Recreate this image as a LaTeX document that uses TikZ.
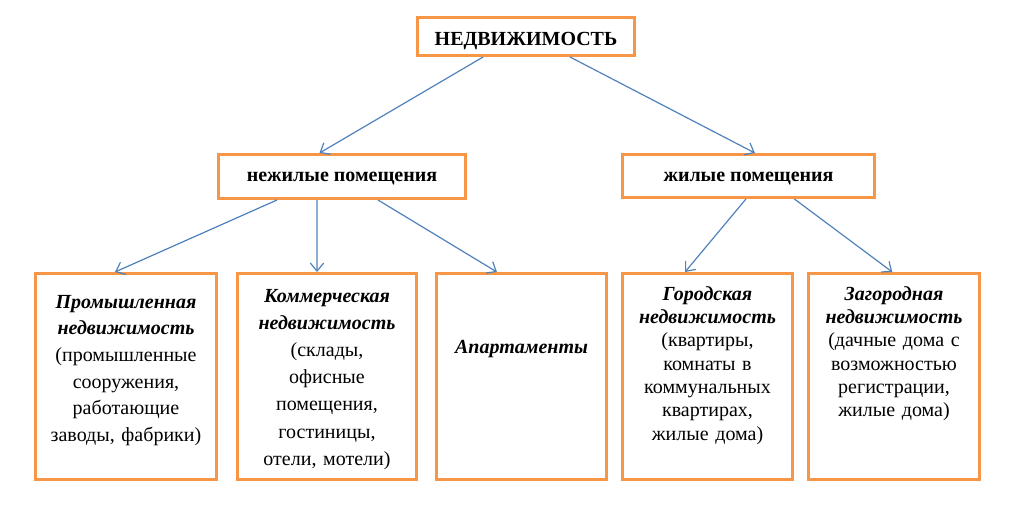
\documentclass[tikz,border=0pt]{standalone}
\usepackage{fontspec}
\setmainfont{Liberation Serif}
\usetikzlibrary{arrows.meta,positioning,calc}
\definecolor{Frame}{HTML}{F79646}
\definecolor{Link}{HTML}{4F81BD}
\newcommand{\kind}[1]{\textbf{\textit{#1}}}
\tikzset{
  head/.style={draw=Frame,fill=white,line width=2.25pt,inner sep=0pt,align=center,text height=10.5pt,text depth=2.5pt,font=\bfseries\fontsize{15}{18}\selectfont},
  leaf/.style={draw=Frame,fill=white,line width=2.25pt,inner sep=0pt,minimum height=154.5pt},
  leaftext/.style={anchor=base,align=center,inner sep=0pt,text width=125pt,font=\fontsize{15}{#1}\selectfont},
  leaftext/.default=20pt,
  flow/.style={-{Straight Barb[length=6pt,width=10pt]},draw=Link,line width=.9pt}
}

\begin{document}
\begin{tikzpicture}[x=0.75pt,y=-0.75pt]
  \useasboundingbox (0,0) rectangle (1024,507);
  \node[head,text height=13.8pt,text depth=1pt,minimum width=162.75pt,minimum height=28.5pt] (root) at (526,36.5) {НЕДВИЖИМОСТЬ};
  \node[head,minimum width=185.25pt,minimum height=33pt] (nonres) at (342,176.5) {нежилые помещения};
  \node[head,minimum width=189pt,minimum height=32.25pt] (res) at (748.5,176) {жилые помещения};
  % bottom row
  \node[leaf,minimum width=135.75pt] (indus) at (126,376.5) {};
  \node[leaf,minimum width=134.25pt,right=13.5pt of indus] (comm) {};
  \node[leaf,minimum width=127.5pt,right=12.75pt of comm] (apart) {};
  \node[leaf,minimum width=127.5pt,right=9.75pt of apart] (urban) {};
  \node[leaf,minimum width=128.25pt,right=9.75pt of urban] (country) {};
  \node[leaftext] (indusT) at ([yshift=-27pt]indus.north) {\kind{Промышленная}\\\kind{недвижимость}\\(промышленные\\сооружения,\\работающие\\заводы, фабрики)};
  \node[leaftext=20.4pt] (commT) at ([yshift=-22.5pt]comm.north) {\kind{Коммерческая}\\\kind{недвижимость}\\(склады,\\офисные\\помещения,\\гостиницы,\\отели, мотели)};
  \node[leaftext] (apartT) at ([yshift=-60.75pt]apart.north) {\kind{Апартаменты}};
  \node[leaftext=17.5pt] (urbanT) at ([yshift=-21pt]urban.north) {\kind{Городская}\\\kind{недвижимость}\\(квартиры,\\комнаты в\\коммунальных\\квартирах,\\жилые дома)};
  \node[leaftext=17.5pt] (countryT) at ([yshift=-21pt]country.north) {\kind{Загородная}\\\kind{недвижимость}\\(дачные дома с\\возможностью\\регистрации,\\жилые дома)};
  % links
  \draw[flow] ($(root.south west)!.305!(root.south east)$) -- ($(nonres.north west)!.41!(nonres.north east)$);
  \draw[flow] ($(root.south west)!.70!(root.south east)$) -- ($(res.north west)!.525!(res.north east)$);
  \draw[flow] ($(nonres.south west)!.24!(nonres.south east)$) -- ($(indus.north west)!.44!(indus.north east)$);
  \draw[flow] ($(nonres.south west)!.40!(nonres.south east)$) -- ($(comm.north west)!.445!(comm.north east)$);
  \draw[flow] ($(nonres.south west)!.644!(nonres.south east)$) -- ($(apart.north west)!.358!(apart.north east)$);
  \draw[flow] ($(res.south west)!.49!(res.south east)$) -- ($(urban.north west)!.37!(urban.north east)$);
  \draw[flow] ($(res.south west)!.68!(res.south east)$) -- ($(country.north west)!.49!(country.north east)$);
\end{tikzpicture}
\end{document}
